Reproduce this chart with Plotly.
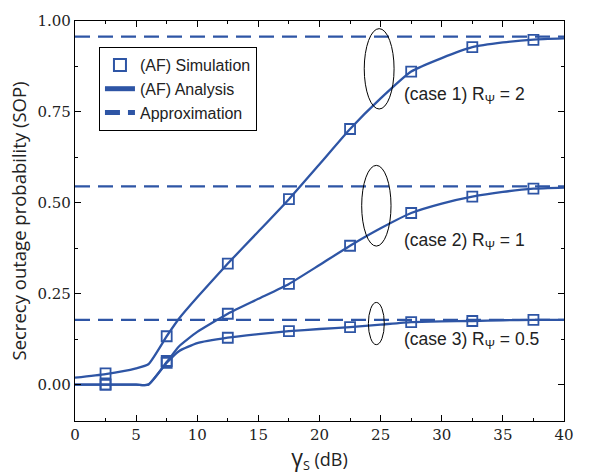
import plotly.graph_objects as go

BLUE = "#2E55A5"

# simulation points
sim_x = [2.5, 7.5, 12.5, 17.5, 22.5, 27.5, 32.5, 37.5]
sim_case1 = [0.031, 0.133, 0.333, 0.510, 0.703, 0.861, 0.928, 0.948]
sim_case2 = [0.0, 0.065, 0.195, 0.277, 0.382, 0.472, 0.517, 0.539]
sim_case3 = [0.0, 0.060, 0.129, 0.147, 0.158, 0.172, 0.175, 0.178]

# analysis curves
ana_x = [0, 2.5, 5, 6, 7.5, 8.5, 10, 12.5, 15, 17.5, 20, 22.5, 25, 27.5, 30, 32.5, 35, 37.5, 40]
ana_case1 = [0.019, 0.029, 0.045, 0.056, 0.133, 0.181, 0.240, 0.333, 0.421, 0.510, 0.606,
             0.703, 0.787, 0.861, 0.898, 0.928, 0.941, 0.949, 0.952]
ana_case2 = [0.0, 0.0, 0.0, 0.0, 0.062, 0.105, 0.145, 0.195, 0.236, 0.277, 0.329,
             0.382, 0.430, 0.472, 0.498, 0.517, 0.530, 0.539, 0.542]
ana_case3 = [0.0, 0.0, 0.0, 0.0, 0.060, 0.092, 0.114, 0.129, 0.139, 0.147, 0.153,
             0.158, 0.165, 0.172, 0.174, 0.175, 0.177, 0.178, 0.178]

# approximation levels
approx_x = [0, 40]
approx_levels = [0.957, 0.545, 0.178]

labels = ["(case 1) R<sub>Ψ</sub> = 2", "(case 2) R<sub>Ψ</sub> = 1", "(case 3) R<sub>Ψ</sub> = 0.5"]
label_y = [0.794, 0.395, 0.121]

fig = go.Figure()

for i, ys in enumerate([ana_case1, ana_case2, ana_case3]):
    fig.add_trace(go.Scatter(
        x=ana_x, y=ys, mode="lines",
        line=dict(color=BLUE, width=2.3, shape="spline", smoothing=0.5),
        name="(AF) Analysis", showlegend=(i == 0), legendrank=2))

for i, lvl in enumerate(approx_levels):
    fig.add_trace(go.Scatter(
        x=approx_x, y=[lvl, lvl], mode="lines",
        line=dict(color=BLUE, width=2.2, dash="15px,8px"),
        name="Approximation", showlegend=(i == 0), legendrank=3))

for i, ys in enumerate([sim_case1, sim_case2, sim_case3]):
    fig.add_trace(go.Scatter(
        x=sim_x, y=ys, mode="markers",
        marker=dict(symbol="square-open", size=10, color=BLUE, line=dict(width=1.8)),
        name="(AF) Simulation", showlegend=(i == 0), legendrank=1))

# ellipses marking each case
ellipses = [(23.66, 26.1, 0.758, 0.979), (23.45, 25.85, 0.381, 0.603), (24.0, 25.3, 0.110, 0.226)]
for x0, x1, y0, y1 in ellipses:
    fig.add_shape(type="circle", xref="x", yref="y", x0=x0, x1=x1, y0=y0, y1=y1,
                  line=dict(color="black", width=1))

for txt, yy in zip(labels, label_y):
    fig.add_annotation(x=27.0, y=yy, text=txt, showarrow=False, xanchor="left",
                       yanchor="middle", xshift=-3,
                       font=dict(family="Liberation Sans", size=17.5, color="#222"))

axis_common = dict(
    showline=True, linecolor="black", linewidth=1.2, mirror="ticks",
    ticks="inside", ticklen=6, tickcolor="black", showgrid=False, zeroline=False,
    tickfont=dict(family="DejaVu Serif", size=15, color="#222"),
)

fig.update_xaxes(range=[0, 40], dtick=5, tick0=0,
                 minor=dict(ticks="inside", ticklen=3, dtick=2.5, tickcolor="black"),
                 title=dict(text="<span style='font-size:23px'>γ</span><sub>S</sub> (dB)", standoff=0,
                            font=dict(family="Open Sans", size=18, color="#222")),
                 **axis_common)
fig.update_yaxes(range=[-0.1, 1.0], tickvals=[0, 0.25, 0.5, 0.75, 1.0],
                 ticktext=["0.00", "0.25", "0.50", "0.75", "1.00"],
                 minor=dict(ticks="inside", ticklen=3, tickvals=[-0.125, 0.125, 0.375, 0.625, 0.875],
                            tickcolor="black"),
                 title=dict(text="Secrecy outage probability (SOP)", standoff=6,
                            font=dict(family="Open Sans", size=18.5, color="#222")),
                 **axis_common)

fig.update_layout(
    width=590, height=474,
    margin=dict(l=75, r=26, t=12, b=53),
    plot_bgcolor="white", paper_bgcolor="white",
    legend=dict(x=0.049, y=0.935, xanchor="left", yanchor="top",
                bgcolor="white", bordercolor="black", borderwidth=1,
                font=dict(family="Liberation Sans", size=16, color="#222"),
                tracegroupgap=0, itemsizing="constant"),
)

fig.write_html("out.html", config={"displayModeBar": False},
               post_script="document.body.style.margin='0';")
